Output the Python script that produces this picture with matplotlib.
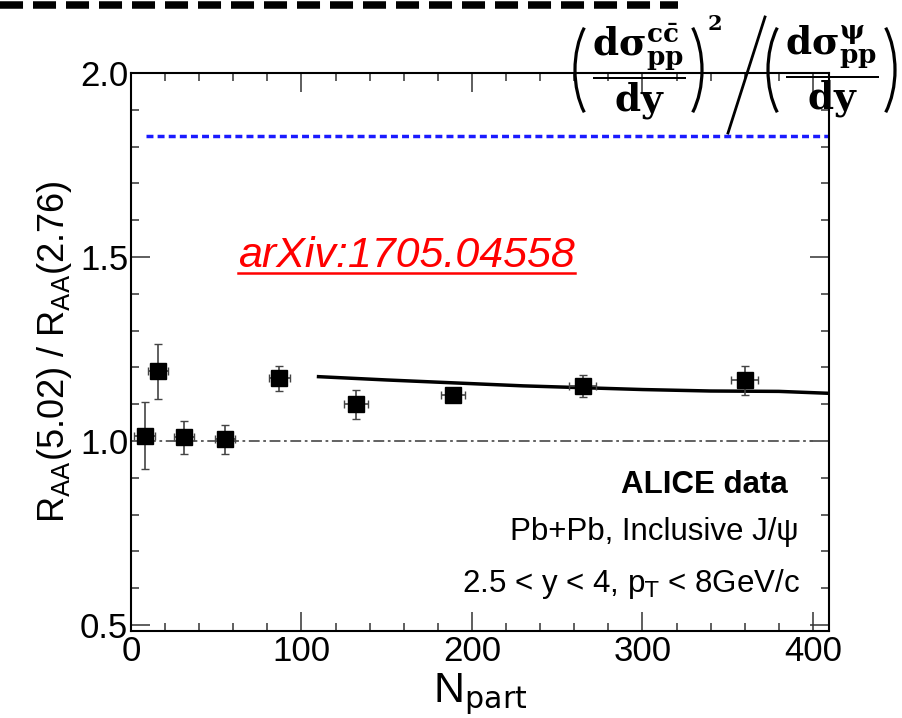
import matplotlib
matplotlib.use("Agg")
import matplotlib.pyplot as plt
from matplotlib.lines import Line2D
from matplotlib.patches import Arc
from matplotlib.ticker import MultipleLocator, FormatStrFormatter

plt.rcParams['font.family'] = ['Liberation Sans', 'DejaVu Sans']

# data
npart = [8, 16, 31, 55, 87, 132, 189, 265, 360]
ratio = [1.015, 1.19, 1.01, 1.005, 1.17, 1.10, 1.125, 1.15, 1.165]
ratio_err = [0.09, 0.075, 0.045, 0.04, 0.035, 0.04, 0.02, 0.03, 0.04]
npart_err = [6, 6, 6, 6, 6, 7, 7, 8, 8]

model_x = [110, 150, 200, 230, 265, 300, 340, 380, 408]
model_y = [1.175, 1.166, 1.156, 1.150, 1.145, 1.140, 1.136, 1.135, 1.130]

ref_level = 1.83
unity = 1.0

W, H = 902, 718
fig = plt.figure(figsize=(W / 100, H / 100), dpi=100)
ax = fig.add_axes([0.1452, 0.1212, 0.7739, 0.7771])

ax.plot([9, 409], [ref_level, ref_level], color='#1a1aff', ls=(0, (2, 1.2)), lw=2.5)
ax.plot([8, 400], [unity, unity], color='#555555', ls=(0, (6, 2, 1.5, 2)), lw=1.3)
ax.plot(model_x, model_y, color='black', lw=2.5)
ax.errorbar(npart, ratio, yerr=ratio_err, xerr=npart_err, fmt='s', color='black',
            ms=11, ecolor='#444444', elinewidth=1.2, capsize=3)

ax.set_xlim(0, 409.4)
ax.set_ylim(0.484, 2.0)
ax.xaxis.set_major_locator(MultipleLocator(100))
ax.xaxis.set_minor_locator(MultipleLocator(20))
ax.yaxis.set_major_locator(MultipleLocator(0.5))
ax.yaxis.set_minor_locator(MultipleLocator(0.1))
ax.yaxis.set_major_formatter(FormatStrFormatter('%.1f'))
ax.tick_params(which='both', direction='in', top=True, right=True, labelsize=25,
               width=1.1, color='#333333')
ax.tick_params(which='major', length=14)
ax.tick_params(which='minor', length=6)
ax.tick_params(axis='y', pad=2)
ax.tick_params(axis='x', pad=3)
for s in ax.spines.values():
    s.set_linewidth(1.5)

ax.set_xlabel(r'N$_{\mathrm{part}}$', fontsize=31, labelpad=2)
ax.set_ylabel(r'R$_{\mathrm{AA}}$(5.02) / R$_{\mathrm{AA}}$(2.76)', fontsize=26, labelpad=4)

ax.text(0.941, 0.247, 'ALICE data', transform=ax.transAxes, ha='right', va='baseline',
        fontsize=22.5, fontweight='bold')
ax.text(0.956, 0.163, 'Pb+Pb, Inclusive J/\u03c8', transform=ax.transAxes, ha='right',
        va='baseline', fontsize=22.5)
ax.text(0.958, 0.070, r'2.5 < y < 4, p$_{\mathrm{T}}$ < 8GeV/c', transform=ax.transAxes,
        ha='right', va='baseline', fontsize=22.5)

t = ax.text(0.395, 0.672, 'arXiv:1705.04558', transform=ax.transAxes, ha='center', va='center',
            fontsize=31, color='#ff0000', style='italic')
fig.canvas.draw()
bb = t.get_window_extent().transformed(fig.transFigure.inverted())
fig.add_artist(Line2D([bb.x0, bb.x1], [bb.y0 + 0.004, bb.y0 + 0.004], color='#ff0000', lw=1.8))

# slide decorations
fig.add_artist(Line2D([0.0, 0.752], [0.9937, 0.9937], color='black', lw=5.4, ls=(0, (3.07, 1.33))))


def px(x, y):
    return x / W, 1 - y / H


# fractions
fig.text(*px(639, 72), r'$\mathbf{\dfrac{d\sigma^{c\bar{c}}_{pp}}{dy}}$',
         ha='center', va='center', fontsize=27, math_fontfamily='dejavuserif')
fig.text(*px(832, 72), r'$\mathbf{\dfrac{d\sigma^{\psi}_{pp}}{dy}}$',
         ha='center', va='center', fontsize=27, math_fontfamily='dejavuserif')
fig.text(*px(715, 24), '2', ha='center', va='center', fontsize=15, fontweight='bold',
         family='DejaVu Serif')

# big parentheses
a, b = 40, 66
for xl, side in [(575, 'l'), (702, 'r'), (768, 'l'), (895, 'r')]:
    if side == 'l':
        cx, t1, t2 = xl + a, 120, 240
    else:
        cx, t1, t2 = xl - a, -60, 60
    c = px(cx, 70)
    fig.add_artist(Arc(c, 2 * a / W, 2 * b / H, theta1=t1, theta2=t2,
                       transform=fig.transFigure, color='black', lw=2.3))

# slash
fig.add_artist(Line2D([728 / W, 765 / W], [1 - 133 / H, 1 - 17 / H], color='black', lw=2))

fig.savefig('out.png', dpi=100)
